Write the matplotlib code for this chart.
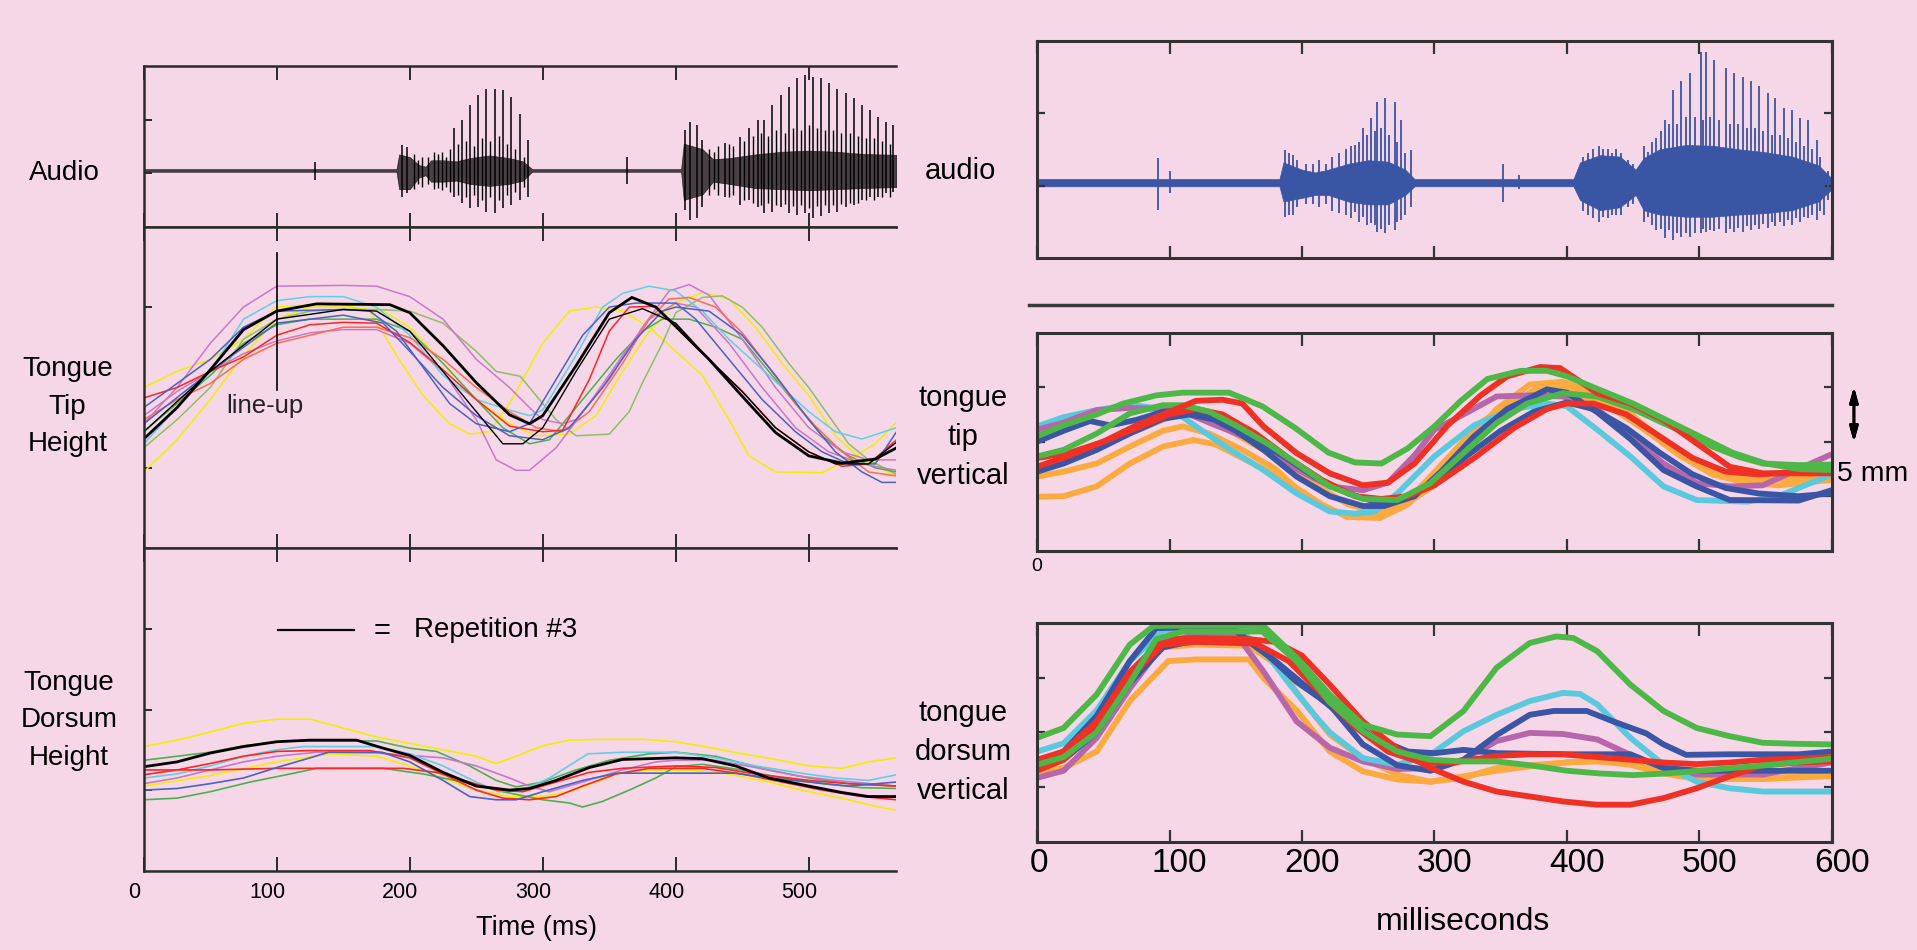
import matplotlib
matplotlib.use("Agg")
import matplotlib.pyplot as plt
from matplotlib.transforms import ScaledTranslation
from matplotlib.lines import Line2D

BG = "#F6D7E8"
NARROW = ["Liberation Sans Narrow", "Liberation Sans", "DejaVu Sans"]
REG = ["Liberation Sans", "DejaVu Sans"]

# ---------------- left figure: audio (time ms, amplitude) ----------------
la_env_t = [0, 190, 192, 200, 207, 212, 216, 225, 235, 245, 260, 275, 285, 292,
            404, 406, 420, 428, 440, 460, 480, 500, 520, 540, 566]
la_env_hi = [1.075, 1.075, 1.35, 1.3, 1.15, 1.12, 1.24, 1.24, 1.22, 1.28, 1.33, 1.28, 1.22, 1.075,
             1.075, 1.55, 1.45, 1.26, 1.28, 1.35, 1.4, 1.42, 1.4, 1.36, 1.34]
la_env_lo = [1.025, 1.025, 0.7, 0.7, 0.92, 0.96, 0.84, 0.84, 0.86, 0.8, 0.76, 0.8, 0.86, 1.025,
             1.025, 0.5, 0.6, 0.84, 0.8, 0.72, 0.7, 0.68, 0.7, 0.72, 0.74]
la_spike_t = [129, 194, 198, 233, 239, 245, 251, 257, 264, 270, 276, 283, 289, 363,
              407, 411, 416, 420, 437, 448, 455, 462, 466, 472, 479, 485, 491, 497,
              503, 509, 515, 521, 528, 534, 540, 546, 552, 558, 563]
la_spike_hi = [1.2, 1.53, 1.49, 1.84, 1.99, 2.27, 2.46, 2.58, 2.58, 2.55, 2.43, 2.11, 1.62, 1.3,
               1.8, 1.96, 1.9, 1.62, 1.56, 1.68, 1.84, 1.99, 1.99, 2.27, 2.46, 2.61, 2.77, 2.83,
               2.8, 2.77, 2.68, 2.58, 2.49, 2.4, 2.27, 2.18, 2.05, 1.96, 1.9]
la_spike_lo = [0.88, 0.56, 0.62, 0.56, 0.44, 0.34, 0.37, 0.28, 0.25, 0.34, 0.4, 0.5, 0.56, 0.8,
               0.31, 0.13, 0.16, 0.37, 0.56, 0.4, 0.5, 0.37, 0.25, 0.28, 0.37, 0.25, 0.22, 0.25,
               0.16, 0.19, 0.25, 0.28, 0.37, 0.4, 0.5, 0.56, 0.56, 0.62, 0.65]
la_mid_t = [203, 206, 209, 214, 218, 221, 224, 227, 230, 236, 242, 248, 254, 260, 267, 273, 279, 286,
            425, 429, 432, 440, 443, 451, 458, 464, 469, 475, 482, 488, 494, 500, 506, 512, 518,
            524, 531, 537, 543, 549, 555, 561]
la_mid_hi = [1.35, 1.25, 1.3, 1.3, 1.4, 1.35, 1.4, 1.3, 1.45, 1.55, 1.6, 1.5, 1.65, 1.6, 1.7, 1.55,
             1.45, 1.3,
             1.45, 1.4, 1.5, 1.55, 1.5, 1.6, 1.7, 1.75, 1.7, 1.8, 1.75, 1.85, 1.8, 1.9, 1.85, 1.8,
             1.8, 1.75, 1.75, 1.7, 1.65, 1.65, 1.6, 1.55]
la_mid_lo = [0.7, 0.8, 0.75, 0.8, 0.7, 0.72, 0.68, 0.75, 0.65, 0.6, 0.55, 0.6, 0.5, 0.55, 0.5, 0.6,
             0.65, 0.75,
             0.6, 0.7, 0.6, 0.55, 0.6, 0.5, 0.45, 0.4, 0.45, 0.4, 0.42, 0.38, 0.4, 0.35, 0.38, 0.4,
             0.4, 0.42, 0.45, 0.45, 0.5, 0.5, 0.55, 0.55]

# ---------------- left figure: tongue tip height ----------------
lt_black = [(0, 1.36), (25, 1.75), (50, 2.22), (75, 2.72), (100, 2.95), (130, 3.04), (185, 3.03),
            (200, 2.93), (225, 2.52), (250, 2.06), (275, 1.66), (290, 1.55), (300, 1.65), (325, 2.27),
            (350, 2.93), (367, 3.12), (385, 3.0), (400, 2.76), (425, 2.35), (450, 1.89), (475, 1.44),
            (500, 1.15), (525, 1.06), (550, 1.11), (566, 1.25)]
lt_black2 = [(0, 1.45), (50, 2.2), (100, 2.85), (150, 2.97), (175, 2.95), (200, 2.7), (225, 2.2),
             (250, 1.7), (270, 1.3), (285, 1.3), (300, 1.5), (325, 2.2), (350, 2.85), (375, 2.98),
             (400, 2.8), (425, 2.35), (450, 1.95), (475, 1.5), (500, 1.2), (520, 1.05), (545, 1.05),
             (566, 1.32)]
lt_mag1 = [(0, 1.55), (25, 2.0), (50, 2.55), (75, 3.0), (100, 3.26), (150, 3.27), (175, 3.26),
           (200, 3.13), (225, 2.85), (250, 2.35), (275, 2.0), (290, 1.75), (300, 1.6), (315, 1.55),
           (325, 1.6), (350, 2.1), (375, 2.75), (395, 3.2), (410, 3.28), (425, 3.15), (450, 2.6),
           (475, 2.0), (500, 1.5), (525, 1.2), (545, 1.1), (566, 1.1)]
lt_mag2 = [(0, 1.65), (25, 1.95), (50, 2.2), (75, 2.42), (100, 2.58), (125, 2.68), (150, 2.72),
           (175, 2.72), (200, 2.55), (225, 2.2), (250, 1.6), (265, 1.1), (280, 0.97), (290, 0.97),
           (310, 1.25), (335, 1.8), (360, 2.4), (380, 2.85), (400, 3.05), (415, 3.0), (440, 2.55),
           (465, 2.0), (490, 1.5), (515, 1.2), (540, 1.05), (566, 0.97)]
lt_cyan = [(0, 1.3), (25, 1.75), (50, 2.2), (75, 2.85), (100, 3.08), (125, 3.13), (150, 3.13),
           (175, 3.0), (200, 2.65), (225, 2.15), (250, 1.85), (275, 1.72), (290, 1.65), (300, 1.72),
           (325, 2.4), (345, 3.0), (360, 3.17), (380, 3.26), (400, 3.2), (420, 2.95), (440, 2.6),
           (460, 2.3), (480, 2.0), (500, 1.7), (520, 1.45), (540, 1.36), (566, 1.5)]
lt_blue1 = [(0, 1.75), (25, 2.05), (50, 2.35), (75, 2.75), (100, 2.95), (150, 2.97), (170, 2.95),
            (190, 2.7), (210, 2.25), (230, 1.8), (250, 1.55), (275, 1.45), (290, 1.55), (310, 2.1),
            (330, 2.65), (350, 3.0), (370, 3.05), (400, 3.05), (415, 2.85), (440, 2.35), (465, 1.85),
            (490, 1.45), (510, 1.2), (530, 1.05), (550, 1.05), (566, 1.45)]
lt_blue2 = [(0, 1.55), (50, 2.2), (100, 2.8), (150, 2.9), (180, 2.8), (200, 2.45), (225, 2.0),
            (250, 1.65), (275, 1.4), (300, 1.35), (320, 1.5), (345, 2.0), (370, 2.6), (390, 2.95),
            (400, 3.0), (425, 2.95), (450, 2.65), (475, 2.15), (500, 1.6), (520, 1.2), (540, 0.95),
            (555, 0.82), (566, 0.82)]
lt_yel1 = [(0, 2.0), (25, 2.2), (50, 2.35), (75, 2.6), (100, 3.0), (125, 3.03), (150, 3.03),
           (170, 2.95), (190, 2.4), (210, 1.9), (230, 1.55), (245, 1.42), (260, 1.45), (275, 1.8),
           (300, 2.55), (320, 2.95), (340, 3.0), (360, 2.95), (380, 2.75), (400, 2.45), (420, 2.15),
           (440, 1.6), (455, 1.15), (475, 0.95), (510, 0.94), (530, 1.1), (550, 1.3), (566, 1.57)]
lt_yel2 = [(0, 0.95), (25, 1.35), (50, 1.85), (75, 2.4), (100, 2.85), (125, 3.0), (150, 3.0),
           (180, 2.95), (200, 2.75), (225, 2.3), (250, 1.85), (275, 1.55), (295, 1.4), (320, 1.42),
           (340, 1.65), (360, 2.2), (380, 2.7), (400, 3.05), (420, 3.18), (440, 3.1), (460, 2.75),
           (480, 2.3), (500, 1.9), (520, 1.4), (540, 1.1), (566, 0.9)]
lt_olive = [(0, 1.25), (25, 1.6), (50, 2.0), (75, 2.6), (100, 2.85), (125, 2.95), (150, 2.97),
            (175, 2.97), (200, 2.95), (225, 2.8), (250, 2.45), (265, 2.2), (283, 2.14), (295, 1.9),
            (310, 1.6), (325, 1.4), (350, 1.42), (365, 1.7), (375, 2.06), (390, 2.55), (400, 2.93),
            (420, 3.12), (435, 3.14), (450, 3.0), (465, 2.75), (485, 2.3), (500, 2.0), (515, 1.65),
            (530, 1.3), (545, 1.1), (566, 0.92)]
lt_green = [(0, 1.45), (25, 1.8), (50, 2.15), (75, 2.55), (100, 2.78), (125, 2.85), (175, 2.85),
            (200, 2.7), (225, 2.3), (250, 1.85), (270, 1.5), (290, 1.3), (305, 1.35), (330, 1.85),
            (355, 2.35), (375, 2.7), (390, 2.85), (410, 2.85), (430, 2.75), (450, 2.6), (470, 2.2),
            (490, 1.8), (510, 1.4), (530, 1.15), (550, 1.0), (566, 0.95)]
lt_red1 = [(0, 1.87), (25, 2.0), (50, 2.2), (75, 2.38), (100, 2.65), (125, 2.78), (150, 2.81),
           (175, 2.8), (200, 2.56), (225, 2.22), (250, 1.85), (275, 1.52), (300, 1.45), (315, 1.47),
           (335, 2.1), (350, 2.7), (365, 3.0), (385, 3.01), (400, 2.75), (425, 2.35), (450, 1.95),
           (475, 1.5), (500, 1.2), (525, 1.02), (545, 1.05), (566, 1.35)]
lt_red2 = [(0, 1.6), (25, 1.85), (50, 2.05), (75, 2.35), (100, 2.55), (125, 2.65), (150, 2.75),
           (175, 2.75), (200, 2.62), (225, 2.35), (250, 2.0), (275, 1.7), (295, 1.5), (315, 1.45),
           (335, 1.7), (360, 2.3), (380, 2.85), (395, 3.1), (410, 3.12), (430, 3.0), (450, 2.68),
           (470, 2.25), (490, 1.8), (505, 1.52), (525, 1.2), (545, 0.95), (566, 0.9)]

# ---------------- left figure: tongue dorsum height ----------------
ld_black = [(0, 1.29), (25, 1.35), (50, 1.46), (75, 1.54), (100, 1.6), (125, 1.62), (160, 1.62),
            (180, 1.52), (200, 1.43), (225, 1.22), (250, 1.05), (275, 1.0), (290, 1.02), (310, 1.12),
            (335, 1.28), (360, 1.38), (400, 1.4), (420, 1.39), (445, 1.3), (470, 1.15), (500, 1.05),
            (525, 0.97), (545, 0.92), (566, 0.92)]
ld_yel1 = [(0, 1.54), (25, 1.62), (50, 1.72), (75, 1.83), (100, 1.88), (125, 1.88), (150, 1.77),
           (175, 1.66), (200, 1.58), (225, 1.5), (250, 1.42), (265, 1.33), (280, 1.42), (300, 1.55),
           (320, 1.62), (350, 1.63), (375, 1.63), (400, 1.6), (425, 1.53), (450, 1.45), (475, 1.38),
           (500, 1.3), (525, 1.27), (545, 1.35), (566, 1.4)]
ld_yel2 = [(0, 1.05), (50, 1.18), (100, 1.35), (140, 1.45), (175, 1.42), (200, 1.3), (225, 1.15),
           (250, 1.0), (275, 0.92), (300, 0.92), (320, 0.98), (340, 1.1), (360, 1.22), (380, 1.25),
           (410, 1.25), (440, 1.2), (470, 1.1), (500, 0.98), (530, 0.88), (550, 0.8), (566, 0.75)]
ld_green1 = [(0, 1.37), (25, 1.42), (50, 1.47), (75, 1.55), (108, 1.61), (175, 1.61), (200, 1.52),
             (220, 1.48), (245, 1.3), (265, 1.12), (280, 1.04), (300, 1.1), (325, 1.25), (350, 1.37),
             (380, 1.45), (400, 1.47), (430, 1.42), (470, 1.25), (500, 1.15), (530, 1.08), (566, 1.05)]
ld_green2 = [(0, 0.88), (25, 0.9), (50, 0.98), (80, 1.1), (113, 1.21), (130, 1.27), (180, 1.27),
             (210, 1.2), (240, 1.1), (270, 0.98), (300, 0.88), (320, 0.84), (330, 0.79), (345, 0.86),
             (365, 1.0), (385, 1.15), (400, 1.29), (420, 1.32), (450, 1.25), (480, 1.15), (510, 1.08),
             (540, 1.03), (566, 1.02)]
ld_cyan = [(0, 1.15), (25, 1.2), (50, 1.3), (75, 1.42), (100, 1.5), (120, 1.54), (175, 1.54),
           (200, 1.45), (225, 1.3), (250, 1.1), (267, 0.98), (285, 1.0), (305, 1.15), (334, 1.45),
           (360, 1.47), (400, 1.47), (430, 1.4), (460, 1.3), (490, 1.22), (520, 1.15), (545, 1.12),
           (566, 1.19)]
ld_blue = [(0, 1.0), (25, 1.02), (50, 1.08), (75, 1.15), (100, 1.28), (125, 1.4), (139, 1.47),
           (179, 1.47), (200, 1.35), (225, 1.12), (245, 0.92), (265, 0.88), (280, 0.88), (300, 0.98),
           (330, 1.12), (356, 1.21), (444, 1.21), (470, 1.15), (500, 1.1), (530, 1.05), (566, 1.1)]
ld_mag = [(0, 1.08), (25, 1.15), (50, 1.25), (75, 1.35), (100, 1.42), (130, 1.47), (175, 1.46),
          (200, 1.43), (225, 1.4), (250, 1.3), (275, 1.15), (290, 1.05), (305, 0.98), (330, 1.1),
          (360, 1.25), (385, 1.35), (400, 1.37), (430, 1.37), (460, 1.28), (490, 1.18), (520, 1.12),
          (566, 1.05)]
ld_red1 = [(0, 1.19), (25, 1.25), (50, 1.33), (75, 1.42), (100, 1.48), (125, 1.49), (170, 1.49),
           (200, 1.4), (225, 1.2), (250, 1.0), (270, 0.9), (290, 0.88), (310, 0.92), (330, 1.05),
           (355, 1.2), (380, 1.27), (420, 1.27), (450, 1.2), (480, 1.1), (510, 1.0), (540, 0.92),
           (566, 0.88)]
ld_red2 = [(0, 1.25), (50, 1.25), (100, 1.27), (140, 1.27), (195, 1.27), (220, 1.22), (245, 1.1),
           (265, 1.0), (285, 0.98), (310, 1.1), (335, 1.22), (360, 1.27), (400, 1.3), (430, 1.28),
           (460, 1.2), (500, 1.12), (530, 1.08), (566, 1.05)]

# ---------------- right figure: audio ----------------
ra_env_t = [0, 183, 186, 200, 210, 220, 235, 250, 265, 278, 285, 405, 410, 425, 440, 452, 458,
            470, 490, 510, 530, 550, 570, 590, 600]
ra_env_hi = [1.09, 1.09, 1.32, 1.22, 1.18, 1.22, 1.3, 1.35, 1.33, 1.22, 1.09, 1.09, 1.32, 1.42, 1.4,
             1.22, 1.38, 1.5, 1.56, 1.55, 1.5, 1.46, 1.4, 1.28, 1.1]
ra_env_lo = [0.99, 0.99, 0.78, 0.83, 0.87, 0.87, 0.78, 0.74, 0.74, 0.87, 0.99, 0.99, 0.8, 0.66, 0.7,
             0.87, 0.66, 0.6, 0.57, 0.57, 0.6, 0.62, 0.66, 0.78, 0.95]
ra_spike_t = [91, 100, 187, 193, 240, 246, 252, 257, 263, 270, 275, 282, 352, 364, 427, 434,
              461, 467, 474, 480, 486, 493, 501, 505, 511, 520, 526, 533, 539, 545, 552, 557,
              564, 570, 576, 582, 589, 594]
ra_spike_hi = [1.38, 1.2, 1.49, 1.42, 1.56, 1.79, 1.93, 2.16, 2.21, 2.16, 1.91, 1.49, 1.3, 1.15,
               1.51, 1.45, 1.46, 1.66, 1.91, 2.32, 2.44, 2.55, 2.85, 2.85, 2.73, 2.62, 2.55, 2.5,
               2.44, 2.37, 2.28, 2.21, 2.07, 2.04, 1.93, 1.91, 1.63, 1.17]
ra_spike_lo = [0.66, 0.9, 0.57, 0.6, 0.64, 0.57, 0.48, 0.36, 0.34, 0.38, 0.52, 0.71, 0.78, 0.95,
               0.57, 0.6, 0.57, 0.39, 0.27, 0.25, 0.29, 0.29, 0.34, 0.36, 0.37, 0.34, 0.36, 0.36,
               0.38, 0.4, 0.42, 0.44, 0.44, 0.46, 0.5, 0.55, 0.52, 0.6]
ra_mid_t = [190, 196, 203, 208, 213, 218, 223, 228, 233, 237, 243, 249, 255, 260, 266, 272, 278,
            412, 416, 420, 424, 431, 437, 441, 446, 450, 458, 464, 471, 477, 483, 490, 497, 503,
            508, 515, 523, 529, 536, 542, 548, 555, 561, 567, 573, 579, 585, 591, 597]
ra_mid_hi = [1.45, 1.35, 1.3, 1.3, 1.35, 1.3, 1.4, 1.45, 1.5, 1.55, 1.6, 1.7, 1.75, 1.8, 1.7, 1.6,
             1.45,
             1.4, 1.45, 1.5, 1.55, 1.5, 1.5, 1.45, 1.35, 1.3, 1.55, 1.6, 1.75, 1.85, 1.85, 1.95,
             1.95, 1.9, 1.95, 1.9, 1.85, 1.85, 1.8, 1.8, 1.75, 1.7, 1.7, 1.65, 1.6, 1.55, 1.5,
             1.4, 1.2]
ra_mid_lo = [0.6, 0.7, 0.75, 0.75, 0.7, 0.75, 0.65, 0.62, 0.6, 0.55, 0.5, 0.45, 0.45, 0.4, 0.45,
             0.5, 0.6,
             0.65, 0.6, 0.55, 0.5, 0.55, 0.6, 0.6, 0.7, 0.75, 0.5, 0.45, 0.4, 0.38, 0.35, 0.35,
             0.35, 0.4, 0.38, 0.4, 0.4, 0.42, 0.44, 0.45, 0.47, 0.5, 0.5, 0.52, 0.55, 0.57, 0.6,
             0.65, 0.8]

# ---------------- right figure: tongue tip vertical ----------------
rt_greenA = [(0, 2.1), (20, 2.3), (45, 2.5), (65, 2.7), (90, 2.85), (110, 2.9), (145, 2.9), (170, 2.65),
             (195, 2.25), (220, 1.8), (240, 1.62), (260, 1.6), (280, 1.88), (300, 2.28), (320, 2.75),
             (340, 3.15), (365, 3.3), (385, 3.3), (400, 3.2), (425, 2.95), (450, 2.7), (475, 2.4),
             (500, 2.1), (525, 1.8), (550, 1.6), (575, 1.5), (600, 1.48)]
rt_greenB = [(0, 1.73), (20, 1.85), (45, 2.15), (70, 2.52), (95, 2.67), (110, 2.67), (130, 2.55),
             (150, 2.3), (175, 1.95), (196, 1.6), (221, 1.18), (246, 0.95), (272, 0.93), (297, 1.24),
             (320, 1.75), (347, 2.34), (370, 2.7), (397, 2.89), (423, 2.83), (450, 2.6), (473, 2.34),
             (495, 2.1), (510, 1.91), (530, 1.72), (548, 1.6), (575, 1.57), (600, 1.58)]
rt_redA = [(0, 1.54), (25, 1.75), (50, 2.0), (75, 2.3), (100, 2.55), (120, 2.75), (140, 2.77),
           (155, 2.7), (171, 2.28), (196, 1.79), (221, 1.42), (246, 1.2), (265, 1.25), (285, 1.6),
           (310, 2.3), (335, 2.85), (355, 3.2), (380, 3.37), (395, 3.35), (423, 2.89), (448, 2.7),
           (473, 2.4), (498, 1.97), (523, 1.54), (548, 1.42), (600, 1.42)]
rt_redB = [(0, 1.7), (25, 1.8), (50, 2.0), (75, 2.25), (100, 2.5), (120, 2.6), (140, 2.5), (165, 2.15),
           (190, 1.7), (215, 1.3), (240, 1.0), (260, 0.95), (280, 1.0), (300, 1.2), (330, 1.7),
           (360, 2.25), (385, 2.6), (400, 2.7), (420, 2.7), (445, 2.5), (470, 2.1), (495, 1.7),
           (520, 1.45), (545, 1.4), (575, 1.45), (600, 1.5)]
rt_cyan = [(0, 2.28), (20, 2.45), (45, 2.58), (70, 2.68), (95, 2.6), (110, 2.45), (120, 2.28),
           (146, 1.85), (171, 1.48), (196, 1.05), (221, 0.72), (240, 0.68), (255, 0.72), (272, 1.05),
           (300, 1.73), (330, 2.3), (360, 2.6), (385, 2.7), (400, 2.65), (423, 2.22), (448, 1.73),
           (473, 1.18), (498, 0.93), (536, 0.9), (560, 1.0), (600, 1.4)]
rt_mag = [(0, 2.22), (20, 2.35), (45, 2.58), (70, 2.62), (95, 2.6), (115, 2.5), (135, 2.3), (171, 1.95),
          (196, 1.5), (221, 1.18), (246, 1.11), (265, 1.25), (285, 1.75), (300, 2.22), (322, 2.5),
          (347, 2.83), (372, 2.85), (397, 2.83), (423, 2.6), (448, 2.09), (473, 1.6), (498, 1.24),
          (523, 1.18), (548, 1.2), (575, 1.5), (600, 1.77)]
rt_blueA = [(0, 2.0), (20, 2.2), (40, 2.38), (55, 2.3), (75, 2.4), (95, 2.55), (110, 2.58), (130, 2.45),
            (150, 2.2), (171, 1.85), (196, 1.36), (221, 1.0), (246, 0.82), (262, 0.82), (285, 1.0),
            (305, 1.45), (330, 2.1), (355, 2.6), (385, 2.96), (400, 2.9), (423, 2.54), (448, 2.05),
            (473, 1.48), (498, 1.18), (523, 0.93), (575, 0.92), (600, 1.11)]
rt_blueB = [(0, 1.45), (20, 1.6), (45, 1.85), (70, 2.15), (95, 2.42), (115, 2.5), (135, 2.4), (160, 2.1),
            (185, 1.75), (210, 1.35), (235, 1.05), (255, 0.9), (275, 0.95), (300, 1.25), (325, 1.75),
            (350, 2.2), (375, 2.55), (400, 2.72), (420, 2.6), (445, 2.25), (470, 1.8), (495, 1.4),
            (520, 1.15), (545, 1.05), (575, 1.0), (600, 1.05)]
rt_orA = [(0, 0.99), (20, 1.0), (45, 1.18), (70, 1.6), (95, 1.91), (118, 2.03), (135, 1.95), (155, 1.7),
          (175, 1.45), (196, 1.15), (215, 0.85), (234, 0.62), (259, 0.6), (280, 0.85), (300, 1.3),
          (322, 1.9), (347, 2.6), (372, 3.05), (397, 3.1), (423, 2.89), (448, 2.52), (473, 1.97),
          (498, 1.6), (523, 1.38), (548, 1.32), (575, 1.3), (600, 1.33)]
rt_orB = [(0, 1.36), (20, 1.45), (45, 1.6), (70, 1.91), (95, 2.2), (110, 2.28), (130, 2.15), (155, 1.85),
          (180, 1.5), (200, 1.05), (221, 0.74), (246, 0.62), (265, 0.7), (285, 1.05), (310, 1.7),
          (335, 2.35), (360, 2.75), (390, 2.9), (410, 2.85), (435, 2.6), (460, 2.2), (485, 1.75),
          (510, 1.4), (535, 1.25), (560, 1.2), (600, 1.3)]
rt_orC = [(0, 1.54), (25, 1.7), (50, 1.95), (75, 2.2), (100, 2.45), (118, 2.5), (135, 2.35), (160, 2.0),
          (185, 1.65), (210, 1.2), (235, 0.85), (255, 0.72), (275, 0.8), (300, 1.2), (325, 1.85),
          (350, 2.5), (375, 2.95), (400, 3.0), (425, 2.8), (450, 2.45), (475, 2.0), (500, 1.6),
          (525, 1.38), (550, 1.3), (575, 1.35), (600, 1.45)]

# ---------------- right figure: tongue dorsum vertical ----------------
rd_greenA = [(0, 1.9), (20, 2.08), (45, 2.69), (70, 3.6), (88, 3.94), (120, 3.95), (171, 3.94),
             (196, 3.36), (221, 2.69), (246, 2.14), (272, 1.96), (297, 1.93), (322, 2.39), (347, 3.18),
             (372, 3.63), (392, 3.75), (405, 3.72), (423, 3.48), (448, 2.87), (473, 2.39), (498, 2.08),
             (523, 1.93), (548, 1.81), (575, 1.79), (600, 1.78)]
rd_greenB = [(0, 1.41), (20, 1.55), (45, 2.0), (70, 2.9), (90, 3.7), (110, 3.84), (170, 3.84),
             (196, 3.3), (221, 2.55), (246, 2.02), (272, 1.65), (297, 1.5), (322, 1.47), (347, 1.47),
             (372, 1.4), (400, 1.3), (425, 1.25), (450, 1.22), (475, 1.25), (500, 1.3), (550, 1.4),
             (600, 1.52)]
rd_redA = [(0, 1.5), (20, 1.65), (45, 2.2), (70, 3.1), (95, 3.7), (120, 3.72), (160, 3.7), (180, 3.65),
           (200, 3.4), (221, 2.87), (246, 2.2), (272, 1.7), (297, 1.35), (322, 1.1), (347, 0.92),
           (372, 0.83), (397, 0.74), (423, 0.68), (448, 0.68), (473, 0.8), (498, 0.98), (523, 1.2),
           (548, 1.4), (575, 1.45), (600, 1.47)]
rd_redB = [(0, 1.3), (20, 1.5), (45, 2.1), (70, 3.0), (95, 3.6), (120, 3.65), (165, 3.62), (190, 3.3),
           (215, 2.7), (240, 2.1), (265, 1.65), (290, 1.45), (315, 1.45), (347, 1.57), (372, 1.6),
           (397, 1.6), (423, 1.55), (448, 1.5), (473, 1.45), (498, 1.42), (523, 1.45), (548, 1.5),
           (575, 1.52), (600, 1.55)]
rd_cyan = [(0, 1.65), (20, 1.8), (45, 2.4), (70, 3.3), (95, 3.85), (120, 3.95), (150, 3.92), (171, 3.5),
           (190, 2.9), (210, 2.3), (221, 2.0), (246, 1.53), (272, 1.41), (297, 1.59), (322, 2.02),
           (347, 2.32), (372, 2.57), (397, 2.72), (410, 2.7), (423, 2.51), (448, 1.9), (473, 1.41),
           (498, 1.1), (523, 0.98), (548, 0.92), (600, 0.92)]
rd_blueA = [(0, 1.45), (20, 1.65), (45, 2.3), (70, 3.3), (90, 3.9), (120, 3.92), (150, 3.85), (171, 3.48),
            (196, 2.92), (221, 2.5), (246, 1.78), (272, 1.4), (297, 1.3), (322, 1.5), (347, 1.95),
            (372, 2.32), (390, 2.39), (415, 2.39), (435, 2.2), (460, 1.98), (473, 1.78), (490, 1.59),
            (523, 1.6), (575, 1.6), (600, 1.65)]
rd_blueB = [(0, 1.35), (20, 1.5), (45, 2.0), (70, 2.9), (95, 3.55), (120, 3.68), (160, 3.65), (180, 3.3),
            (205, 2.8), (230, 2.3), (255, 1.9), (280, 1.65), (300, 1.62), (322, 1.68), (347, 1.62),
            (400, 1.6), (448, 1.6), (473, 1.35), (500, 1.3), (550, 1.3), (600, 1.3)]
rd_mag = [(0, 1.17), (20, 1.3), (45, 1.9), (70, 2.8), (95, 3.6), (120, 3.8), (150, 3.8), (171, 3.11),
          (196, 2.2), (221, 1.72), (246, 1.47), (272, 1.33), (297, 1.35), (322, 1.5), (347, 1.84),
          (372, 1.99), (397, 1.97), (423, 1.87), (448, 1.59), (473, 1.35), (498, 1.23), (548, 1.23),
          (575, 1.35), (600, 1.45)]
rd_orA = [(0, 1.29), (20, 1.35), (45, 1.65), (70, 2.57), (99, 3.3), (120, 3.33), (160, 3.33),
          (171, 2.99), (196, 2.4), (221, 1.65), (246, 1.29), (272, 1.14), (297, 1.1), (322, 1.17),
          (347, 1.35), (372, 1.4), (400, 1.45), (423, 1.47), (448, 1.41), (473, 1.25), (498, 1.15),
          (548, 1.15), (600, 1.25)]
rd_orB = [(0, 1.41), (20, 1.5), (45, 2.1), (70, 3.0), (95, 3.55), (120, 3.6), (160, 3.58), (180, 3.25),
          (201, 2.57), (221, 1.96), (246, 1.53), (272, 1.23), (297, 1.1), (322, 1.2), (347, 1.3),
          (372, 1.38), (400, 1.45), (430, 1.52), (448, 1.42), (473, 1.3), (500, 1.22), (548, 1.15),
          (600, 1.2)]

left_ticks = [0, 100, 200, 300, 400, 500]
right_ticks = [0, 100, 200, 300, 400, 500, 600]

# colours
K = "black"
L_MAG, L_CYAN, L_BLUE, L_YEL = "#C878C8", "#5FCFE6", "#4A62C0", "#F2EE00"
L_OLIVE, L_GREEN, L_RED, L_CORAL = "#8CC063", "#4CB050", "#FF2424", "#FF6A50"
R_RED, R_GREEN, R_BLUE = "#EE3124", "#4DB848", "#3A55A4"
R_CYAN, R_ORANGE, R_MAG = "#5BC9DD", "#FBAA3F", "#B766AC"

left_tip = [(lt_yel1, L_YEL, 1.1), (lt_yel2, L_YEL, 1.1), (lt_olive, L_OLIVE, 1.1),
            (lt_green, L_GREEN, 1.1), (lt_mag1, L_MAG, 1.1), (lt_mag2, L_MAG, 1.1),
            (lt_cyan, L_CYAN, 1.1), (lt_red2, L_CORAL, 1.1), (lt_red1, L_RED, 1.1),
            (lt_blue1, L_BLUE, 1.1), (lt_blue2, L_BLUE, 1.1), (lt_black2, K, 1.0), (lt_black, K, 2.0)]
left_dors = [(ld_yel1, L_YEL, 1.2), (ld_yel2, L_YEL, 1.2), (ld_green2, L_GREEN, 1.2),
             (ld_green1, L_GREEN, 1.2), (ld_mag, L_MAG, 1.2), (ld_cyan, L_CYAN, 1.2),
             (ld_red2, L_RED, 1.2), (ld_red1, L_RED, 1.2), (ld_blue, L_BLUE, 1.2), (ld_black, K, 2.0)]
right_tip = [(rt_orA, R_ORANGE), (rt_orB, R_ORANGE), (rt_orC, R_ORANGE), (rt_cyan, R_CYAN),
             (rt_mag, R_MAG), (rt_blueB, R_BLUE), (rt_blueA, R_BLUE), (rt_redB, R_RED),
             (rt_greenB, R_GREEN), (rt_redA, R_RED), (rt_greenA, R_GREEN)]
right_dors = [(rd_orA, R_ORANGE), (rd_orB, R_ORANGE), (rd_mag, R_MAG), (rd_cyan, R_CYAN),
              (rd_blueB, R_BLUE), (rd_blueA, R_BLUE), (rd_redB, R_RED), (rd_redA, R_RED),
              (rd_greenB, R_GREEN), (rd_greenA, R_GREEN)]

fig = plt.figure(figsize=(19.17, 9.5), dpi=100, facecolor=BG)


def style_left(ax, yticks, ylim):
    ax.set_facecolor(BG)
    ax.set_xlim(0, 565.6)
    ax.set_ylim(*ylim)
    ax.spines["right"].set_visible(False)
    for s in ["left", "top", "bottom"]:
        ax.spines[s].set_linewidth(1.8)
        ax.spines[s].set_color("#2a2a2a")
    ax.set_xticks(left_ticks)
    ax.set_yticks(yticks)
    ax.tick_params(axis="x", direction="in", length=10, width=1.4, top=True, bottom=True,
                   labelbottom=False, color="#2a2a2a")
    ax.tick_params(axis="y", direction="in", length=6, width=1.4, left=True, right=False,
                   labelleft=False, color="#2a2a2a")


def style_right(ax, yticks, ylim):
    ax.set_facecolor(BG)
    ax.set_xlim(0, 600)
    ax.set_ylim(*ylim)
    for s in ax.spines.values():
        s.set_linewidth(2.2)
        s.set_color("#333333")
    ax.set_xticks(right_ticks)
    ax.set_yticks(yticks)
    ax.tick_params(axis="x", direction="in", length=9, width=1.6, top=True, bottom=True,
                   labelbottom=False, color="#333333")
    ax.tick_params(axis="y", direction="in", length=6, width=1.6, left=True, right=True,
                   labelleft=False, color="#333333")


def draw_curves(ax, curves, lw=None):
    for c in curves:
        pts = c[0]
        width = c[2] if lw is None else lw
        ax.plot([p[0] for p in pts], [p[1] for p in pts], color=c[1], lw=width,
                solid_joinstyle="miter", solid_capstyle="butt")


# ---------------- left figure ----------------
ax_la = fig.add_axes([0.0750, 0.7614, 0.3924, 0.1691])
style_left(ax_la, [1, 2], (0, 3))
ax_la.fill_between(la_env_t, la_env_lo, la_env_hi, color="black", alpha=0.7, lw=0.5)
ax_la.vlines(la_mid_t, la_mid_lo, la_mid_hi, color="black", lw=1.0)
ax_la.vlines(la_spike_t, la_spike_lo, la_spike_hi, color="black", lw=1.1)

ax_lt = fig.add_axes([0.0750, 0.4228, 0.3924, 0.3386])
style_left(ax_lt, [1, 3], (0, 4))
draw_curves(ax_lt, left_tip)
ax_lt.plot([100, 100], [1.97, 3.67], color="black", lw=1.2)
ax_lt.text(90.8, 1.77, "line-up", ha="center", va="center", fontsize=18.5, family=NARROW,
           color="#222222")

ax_ld = fig.add_axes([0.0750, 0.0835, 0.3924, 0.3393])
style_left(ax_ld, [1, 2, 3], (0, 4))
draw_curves(ax_ld, left_dors)
ax_ld.plot([100.6, 157.9], [2.99, 2.99], color="black", lw=1.6)
ax_ld.text(179.5, 2.97, "=", ha="center", va="center", fontsize=21, family=NARROW)
ax_ld.text(203.2, 2.99, "Repetition #3", ha="left", va="center", fontsize=20, family=NARROW)
ax_ld.tick_params(axis="x", labelbottom=True, labelsize=15.5, pad=8)
ax_ld.set_xticklabels([str(t) for t in left_ticks], family=NARROW)
for lab in ax_ld.get_xticklabels():
    lab.set_transform(lab.get_transform() + ScaledTranslation(-0.096, 0, fig.dpi_scale_trans))

fig.text(0.0334, 0.818, "Audio", ha="center", va="center", fontsize=20, family=NARROW)
fig.text(0.0352, 0.572, "Tongue\nTip\nHeight", ha="center", va="center", fontsize=20,
         family=NARROW, linespacing=1.58)
fig.text(0.0360, 0.242, "Tongue\nDorsum\nHeight", ha="center", va="center", fontsize=20,
         family=NARROW, linespacing=1.58)
fig.text(0.2801, 0.0232, "Time (ms)", ha="center", va="center", fontsize=19.5, family=NARROW)

# ---------------- right figure ----------------
ax_ra = fig.add_axes([0.5410, 0.7284, 0.4145, 0.2288])
style_right(ax_ra, [1, 2], (0, 3))
ax_ra.fill_between(ra_env_t, ra_env_lo, ra_env_hi, color=R_BLUE, lw=0.5)
ax_ra.vlines(ra_mid_t, ra_mid_lo, ra_mid_hi, color=R_BLUE, lw=1.3)
ax_ra.vlines(ra_spike_t, ra_spike_lo, ra_spike_hi, color=R_BLUE, lw=1.3)

ax_rt = fig.add_axes([0.5410, 0.4203, 0.4145, 0.2295])
style_right(ax_rt, [1, 2, 3], (0, 4))
draw_curves(ax_rt, right_tip, lw=4.2)
ax_rt.set_xticklabels(["0"] + [""] * 6, family=NARROW)
ax_rt.tick_params(axis="x", labelbottom=True, labelsize=14, pad=5)

ax_rd = fig.add_axes([0.5410, 0.1137, 0.4145, 0.2308])
style_right(ax_rd, [1, 2, 3], (0, 4))
draw_curves(ax_rd, right_dors, lw=4.2)
ax_rd.tick_params(axis="x", labelbottom=True, labelsize=24, pad=4)
ax_rd.set_xticklabels([str(t) for t in right_ticks], family=NARROW)
for i, lab in enumerate(ax_rd.get_xticklabels()):
    dx = 0.02 if i == 0 else 0.10
    lab.set_transform(lab.get_transform() + ScaledTranslation(dx, 0, fig.dpi_scale_trans))

fig.add_artist(Line2D([0.5368, 0.9557], [0.6789, 0.6789], color="#3a3a3a", lw=2.5))

fig.text(0.5008, 0.820, "audio", ha="center", va="center", fontsize=21, family=REG)
fig.text(0.5023, 0.540, "tongue\ntip\nvertical", ha="center", va="center", fontsize=21,
         family=REG, linespacing=1.48)
fig.text(0.5023, 0.2084, "tongue\ndorsum\nvertical", ha="center", va="center", fontsize=21,
         family=REG, linespacing=1.48)
fig.text(0.7632, 0.0298, "milliseconds", ha="center", va="center", fontsize=23, family=REG)
fig.text(0.9583, 0.5011, "5 mm", ha="left", va="center", fontsize=20.5, family=NARROW)
fig.add_artist(plt.annotate("", xy=(0.9671, 0.5316), xytext=(0.9671, 0.5958),
                            xycoords="figure fraction", textcoords="figure fraction",
                            arrowprops=dict(arrowstyle="<|-|>,head_length=0.9,head_width=0.25",
                                            color="black", lw=2)))

fig.savefig("out.png", dpi=100, facecolor=BG)
